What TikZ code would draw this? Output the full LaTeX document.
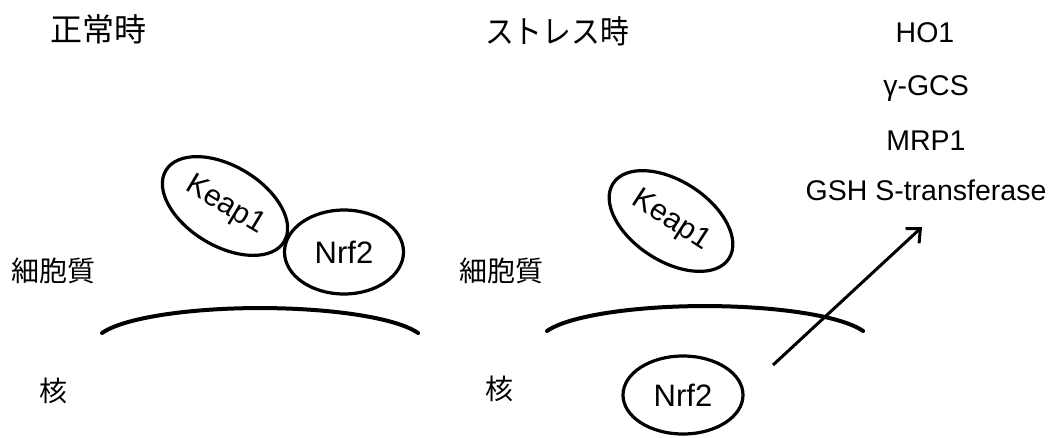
\documentclass[tikz,border=0pt]{standalone}
\usepackage{fontspec}
\setmainfont{Liberation Sans}
\newfontfamily\cjk{Noto Sans CJK JP}
\newfontfamily\cjknarrow[FakeStretch=0.9]{Noto Sans CJK JP}
\usetikzlibrary{shapes.geometric,arrows.meta}
\begin{document}
\begin{tikzpicture}[x=1pt,y=-1pt,
  prot/.style={draw,ellipse,line width=3.2pt,inner sep=0pt},
  title/.style={font=\cjk\fontsize{32}{36}\selectfont},
  region/.style={font=\cjk\fontsize{28}{32}\selectfont},
  gene/.style={font=\fontsize{28.5}{30}\selectfont,anchor=base},
  membrane/.style={line width=4pt,line cap=round},
  arr/.style={line width=3pt,-{Straight Barb[length=11pt,width=20pt,line width=3pt]}}]
\useasboundingbox (0,0) rectangle (1052,437);
% titles
\node[title] (t1) at (98,29) {正常時};
\node[title,font=\cjknarrow\fontsize{32}{36}\selectfont] (t2) at (557,31) {ストレス時};
% region labels
\node[region] (c1) at (53,271) {細胞質};
\node[region] (n1) at (53,391) {核};
\node[region] (c2) at (501,271) {細胞質};
\node[region] (n2) at (499,389) {核};
% membranes
\draw[membrane] (102,333) arc[start angle=196.7,end angle=343.3,x radius=165,y radius=35];
\draw[membrane] (547,331) arc[start angle=196.7,end angle=343.3,x radius=165,y radius=35];
% left: normal
\node[prot,minimum width=138pt,minimum height=80pt,rotate=-31,font=\fontsize{30}{32}\selectfont] (k1) at (225,206) {Keap1};
\node[prot,minimum width=119pt,minimum height=84pt,font=\fontsize{31}{34}\selectfont] (r1) at (344,252) {Nrf2};
% right: stress
\node[prot,minimum width=138pt,minimum height=80pt,rotate=-33,font=\fontsize{30}{32}\selectfont] (k2) at (671,221) {Keap1};
\node[prot,minimum width=120pt,minimum height=78pt,font=\fontsize{31}{34}\selectfont] (r2) at (683,395) {Nrf2};
% genes
\node[gene] (g1) at (925,42) {HO1};
\node[gene] (g2) at (926,95) {γ-GCS};
\node[gene] (g3) at (926,150) {MRP1};
\node[gene] (g4) at (926,200) {GSH S-transferase};
% arrow
\coordinate (a0) at (773,365);
\coordinate (a1) at (922,227);
\draw[arr] (a0) -- (a1);
\end{tikzpicture}
\end{document}
